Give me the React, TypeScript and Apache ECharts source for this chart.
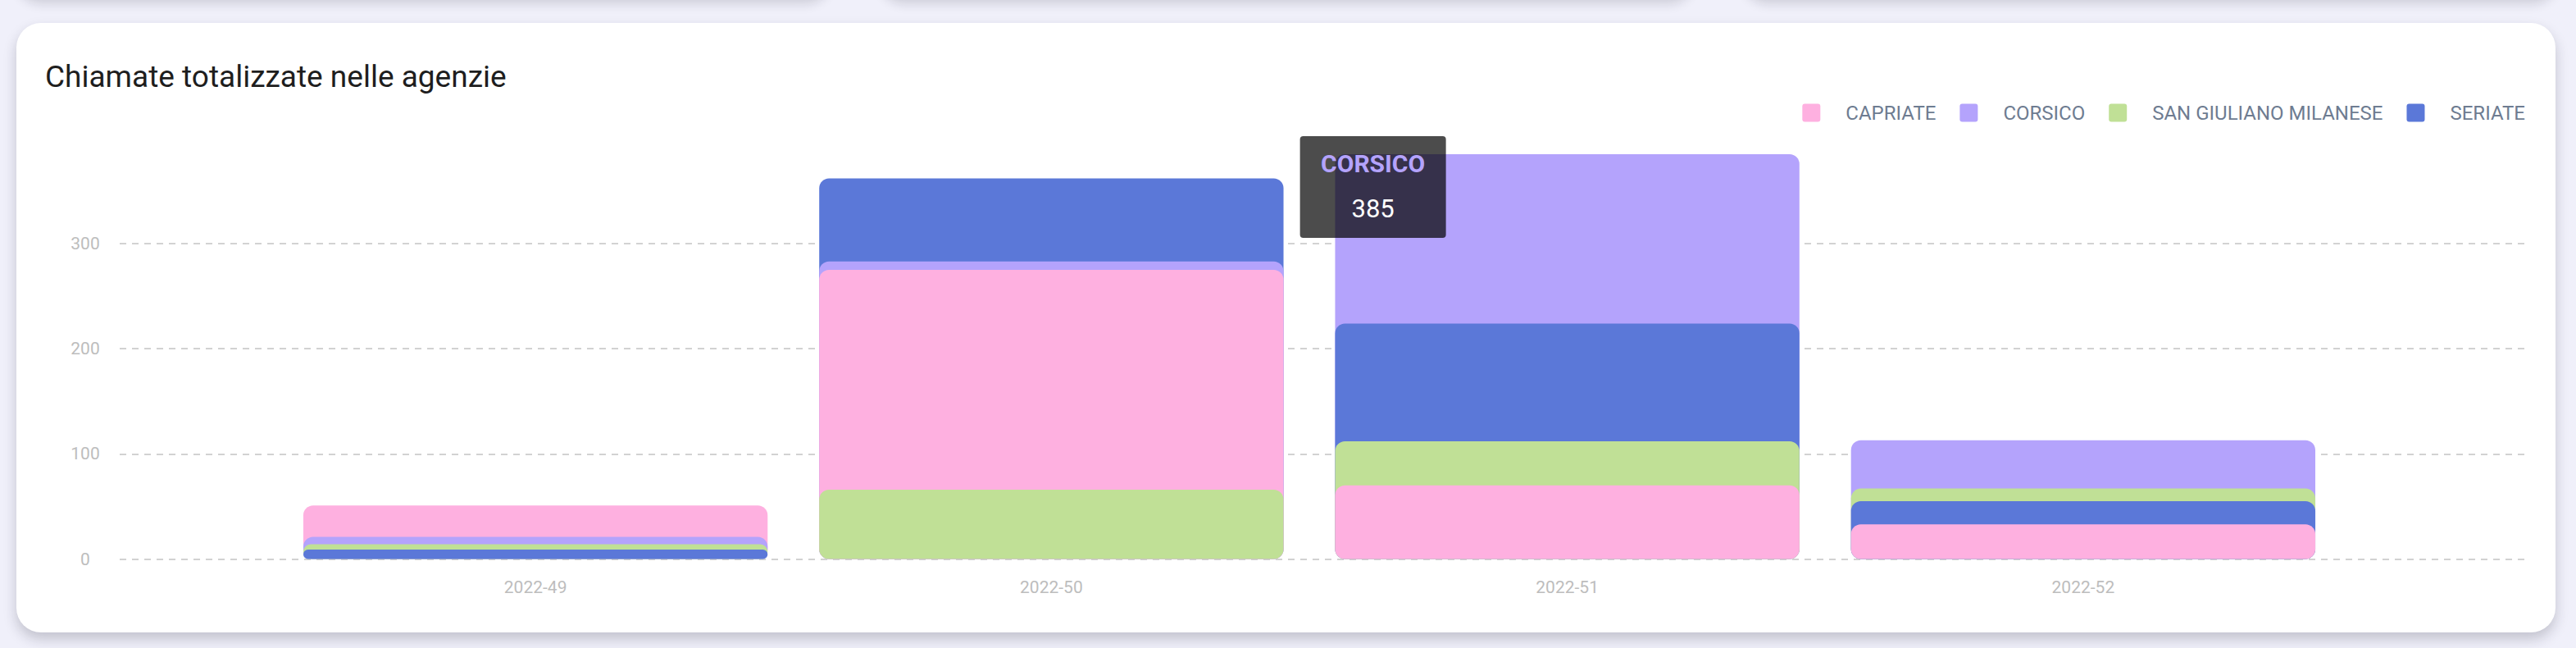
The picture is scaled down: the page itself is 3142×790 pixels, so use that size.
import React, { useEffect, useRef } from "react";
import * as echarts from "echarts";

// ---- data ----
const weeks = ["2022-49", "2022-50", "2022-51", "2022-52"];
const agencies = ["CAPRIATE", "CORSICO", "SAN GIULIANO MILANESE", "SERIATE"];
const capriate = [51, 275, 70, 33];
const corsico = [21, 283, 385, 113];
const sanGiuliano = [14, 66, 112, 67];
const seriate = [9, 362, 224, 55];
const agencyColors = ["#feb0e0", "#b4a3fc", "#c0e096", "#5b78d8"];
const titleText = "Chiamate totalizzate nelle agenzie";
// tooltip shown in the reference: agency index / week index
const tipAgency = 1;
const tipWeek = 2;

const values = [capriate, corsico, sanGiuliano, seriate];

function rankOf(a: number, i: number): number {
  // 0 = largest value in that week (drawn behind)
  let r = 0;
  for (let b = 0; b < values.length; b++) {
    if (b === a) continue;
    if (values[b][i] > values[a][i] || (values[b][i] === values[a][i] && b < a)) r++;
  }
  return r;
}

const FONT = "Roboto";

export default function App() {
  const ref = useRef<HTMLDivElement | null>(null);

  useEffect(() => {
    if (!ref.current) return;
    const chart = echarts.init(ref.current, undefined, { renderer: "svg" });

    const series: any[] = [];
    agencies.forEach((name, a) => {
      for (let r = 0; r < agencies.length; r++) {
        series.push({
          type: "bar",
          name,
          xAxisIndex: 0,
          yAxisIndex: 0,
          barWidth: "90%",
          barGap: "-100%",
          z: 2 + r,
          itemStyle: { color: agencyColors[a], borderRadius: 12 },
          emphasis: { disabled: true },
          data: weeks.map((_, i) => (rankOf(a, i) === r ? values[a][i] : "-")),
        });
      }
    });

    const option: any = {
      animation: false,
      title: {
        text: titleText,
        left: 55,
        top: 74.5,
        padding: 0,
        textStyle: { fontFamily: FONT, fontSize: 37, fontWeight: 400, color: "#1e1e1e" },
      },
      legend: {
        data: agencies,
        right: 62,
        top: 125.5,
        padding: 0,
        icon: "path://M3,0 H19 Q22,0 22,3 V19 Q22,22 19,22 H3 Q0,22 0,19 V3 Q0,0 3,0 Z",
        itemWidth: 22,
        itemHeight: 22,
        itemGap: 29,
        textStyle: {
          fontFamily: FONT,
          fontSize: 24,
          color: "#6e7c91",
          padding: [0, 0, 0, 26],
        },
      },
      grid: [
        { left: 338.5, right: 286.5, top: 168.8, bottom: 108.5 },
        { left: 146, right: 63, top: 168.8, bottom: 108.5 },
      ],
      xAxis: [
        {
          type: "category",
          gridIndex: 0,
          data: weeks,
          axisLine: { show: false },
          axisTick: { show: false },
          axisLabel: { fontFamily: FONT, fontSize: 21, color: "#bdbdbd", margin: 24 },
          splitLine: { show: false },
        },
        { type: "value", gridIndex: 1, min: 0, max: 1, show: false },
      ],
      yAxis: [
        { type: "value", gridIndex: 0, min: 0, max: 400, interval: 100, show: false },
        {
          type: "value",
          gridIndex: 1,
          min: 0,
          max: 400,
          interval: 100,
          axisLine: { show: false },
          axisTick: { show: false },
          axisLabel: {
            fontFamily: FONT,
            fontSize: 21,
            color: "#bdbdbd",
            align: "center",
            margin: 42,
            showMaxLabel: false,
          },
          splitLine: {
            show: true,
            lineStyle: {
              color: ["#c4c4c4", "#c4c4c4", "#c4c4c4", "#c4c4c4", "rgba(0,0,0,0)"],
              width: 1.5,
              type: [8, 7],
            },
          },
        },
      ],
      series,
    };

    chart.setOption(option);

    // Tooltip-like annotation anchored on the highlighted bar
    const pt = chart.convertToPixel({ gridIndex: 0 } as any, [weeks[tipWeek], values[tipAgency][tipWeek]]) as number[];
    if (pt && pt.length === 2) {
      const bx = pt[0] - 326;
      const by = pt[1] - 22;
      chart.setOption({
        graphic: [
          {
            type: "rect",
            z: 100,
            zlevel: 0,
            shape: { x: bx, y: by, width: 178, height: 124, r: 4 },
            style: { fill: "rgba(0,0,0,0.7)" },
          },
          {
            type: "text",
            z: 101,
            x: bx + 89,
            y: by + 33,
            style: {
              text: agencies[tipAgency],
              fill: agencyColors[tipAgency],
              font: `bold 30px ${FONT}`,
              align: "center",
              verticalAlign: "middle",
            },
          },
          {
            type: "text",
            z: 101,
            x: bx + 89,
            y: by + 88,
            style: {
              text: String(values[tipAgency][tipWeek]),
              fill: "#ffffff",
              font: `31px ${FONT}`,
              align: "center",
              verticalAlign: "middle",
            },
          },
        ],
      });
    }

    return () => {
      chart.dispose();
    };
  }, []);

  const topCard = (left: number, width: number): React.CSSProperties => ({
    position: "absolute",
    left,
    top: -200,
    width,
    height: 198,
    background: "#ffffff",
    borderRadius: 30,
    boxShadow: "0 6px 14px rgba(20,20,40,0.16)",
  });

  return (
    <div
      style={{
        position: "fixed",
        left: 0,
        top: 0,
        width: 3142,
        height: 790,
        overflow: "hidden",
        background: "#f0f0fa",
      }}
    >
      <div style={topCard(20, 993)} />
      <div style={topCard(1073, 993)} />
      <div style={topCard(2126, 993)} />
      <div
        style={{
          position: "absolute",
          left: 20,
          top: 28,
          width: 3097,
          height: 743,
          background: "#ffffff",
          borderRadius: 30,
          boxShadow: "0 8px 16px rgba(30,30,50,0.22)",
        }}
      />
      <div ref={ref} style={{ position: "absolute", left: 0, top: 0, width: 3142, height: 790 }} />
    </div>
  );
}
